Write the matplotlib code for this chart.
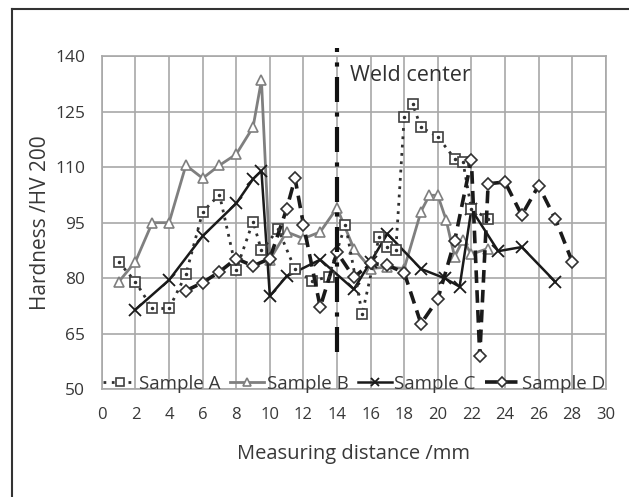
import matplotlib
matplotlib.use("Agg")
import matplotlib.pyplot as plt
from matplotlib.lines import Line2D

plt.rcParams['font.family'] = ['Open Sans', 'DejaVu Sans']

# Sample A (dotted, squares)
xa = [1, 2, 3, 4, 5, 6, 7, 8, 9, 9.5, 10.5, 11.5, 12.5, 13.5, 14.5, 15.5,
      16.5, 17, 17.5, 18, 18.5, 19, 20, 21, 21.5, 22, 23]
ya = [84.4, 79, 71.8, 71.8, 81, 97.9, 102.6, 82.3, 95.3, 87.5, 93.2, 82.4,
      79.3, 80.3, 94.5, 70.3, 91, 88.4, 87.5, 123.6, 127, 120.8, 118.2,
      112.3, 111.4, 98.8, 96]

# Sample B (gray, triangles)
xb = [1, 2, 3, 4, 5, 6, 7, 8, 9, 9.5, 10, 11, 12, 13, 14, 15, 16, 17, 18,
      19, 19.5, 20, 20.5, 21, 21.5, 22, 23]
yb = [79, 84.5, 95, 95, 110.5, 107, 110.5, 113.5, 120.8, 133.5, 85, 92.5,
      90.7, 92.5, 99, 88, 82.6, 83, 82.6, 98, 102.4, 102.4, 95.7, 85.8,
      90.3, 86.5, 88]

# Sample C (black, crosses)
xc = [2, 4, 6, 8, 9, 9.5, 10, 11, 13, 15, 16, 17, 19, 20.4, 21.3, 22,
      23.6, 25, 27]
yc = [71.5, 79.5, 91.4, 100.2, 106.8, 109, 75.2, 80.5, 85, 77, 84.4, 92,
      82.5, 80, 77.7, 98.6, 87.3, 88.4, 79]

# Sample D (dashed, diamonds)
xd = [5, 6, 7, 8, 9, 10, 11, 11.5, 12, 13, 14, 15, 16, 17, 18, 19, 20,
      21, 22, 22.5, 23, 24, 25, 26, 27, 28]
yd = [76.6, 78.8, 81.7, 85.3, 83.3, 85.3, 98.7, 107, 94.5, 72.2, 87, 80.2,
      84, 83.5, 81.5, 67.7, 74.3, 90, 112, 59, 105.5, 106, 97, 105, 96,
      84.5]

weld_x = [14, 14]
weld_y = [60, 142.2]

xticks = list(range(0, 31, 2))
yticks = [50, 65, 80, 95, 110, 125, 140]

txt = '#383838'
gridc = '#a8a8a8'

fig = plt.figure(figsize=(6.29, 4.97), dpi=100)
ax = fig.add_axes([0.162, 0.217, 0.801, 0.670])

ax.plot(xa, ya, linestyle=(0, (1, 2)), color='#303030', lw=2,
        marker='s', ms=7, mfc='white', mec='#404040', mew=1.2,
        label='Sample A', zorder=4)
ax.plot(xa, ya, linestyle='none', marker='.', ms=3, color='#303030', zorder=5)
ax.plot(xb, yb, '-', color='#7f7f7f', lw=2, marker='^', ms=7,
        mfc='white', mec='#7f7f7f', mew=1.2, label='Sample B', zorder=3)
ax.plot(xc, yc, '-', color='#1a1a1a', lw=1.8, marker='x', ms=8, mew=1.3,
        label='Sample C', zorder=3)
ax.plot(xd, yd, linestyle=(0, (3.5, 2)), color='#1a1a1a', lw=2.6,
        marker='D', ms=6, mfc='white', mec='#303030', mew=1.2,
        label='Sample D', zorder=4)
ax.plot(weld_x, weld_y, color='#111111', lw=3,
        linestyle=(0, (6, 2.5, 1, 2.5)), clip_on=False, zorder=6)
ax.text(14.75, 134.9, 'Weld center', fontsize=15.5, color='#303030',
        va='center', ha='left')

ax.set_xlim(0, 30)
ax.set_ylim(50, 140)
ax.set_xticks(xticks)
ax.set_yticks(yticks)
ax.grid(True, color=gridc, lw=1.2)
ax.set_axisbelow(True)
for s in ax.spines.values():
    s.set_color(gridc)
    s.set_linewidth(1.2)
ax.tick_params(axis='x', length=0, labelsize=12, colors=txt, pad=13)
ax.tick_params(axis='y', length=0, labelsize=12.5, colors=txt, pad=12)
ax.set_xlabel('Measuring distance /mm', fontsize=14.5, color=txt, labelpad=15)
ax.set_ylabel('Hardness /HV 200', fontsize=15, color=txt, labelpad=3)

leg = ax.legend(loc='lower center', bbox_to_anchor=(0.5, -0.05), ncol=4,
                frameon=False, fontsize=13.5, handlelength=1.8,
                handletextpad=0.15, columnspacing=0.5, labelcolor=txt,
                borderpad=0.2, markerscale=0.8)

# outer frame (left and top edges visible)
fig.add_artist(Line2D([12 / 629, 12 / 629], [1 - 9 / 497, 0], color='#333333',
                      lw=1.5, transform=fig.transFigure))
fig.add_artist(Line2D([12 / 629, 1], [1 - 9 / 497, 1 - 9 / 497], color='#333333',
                      lw=1.5, transform=fig.transFigure))

fig.savefig('out.png', dpi=100, facecolor='white')
